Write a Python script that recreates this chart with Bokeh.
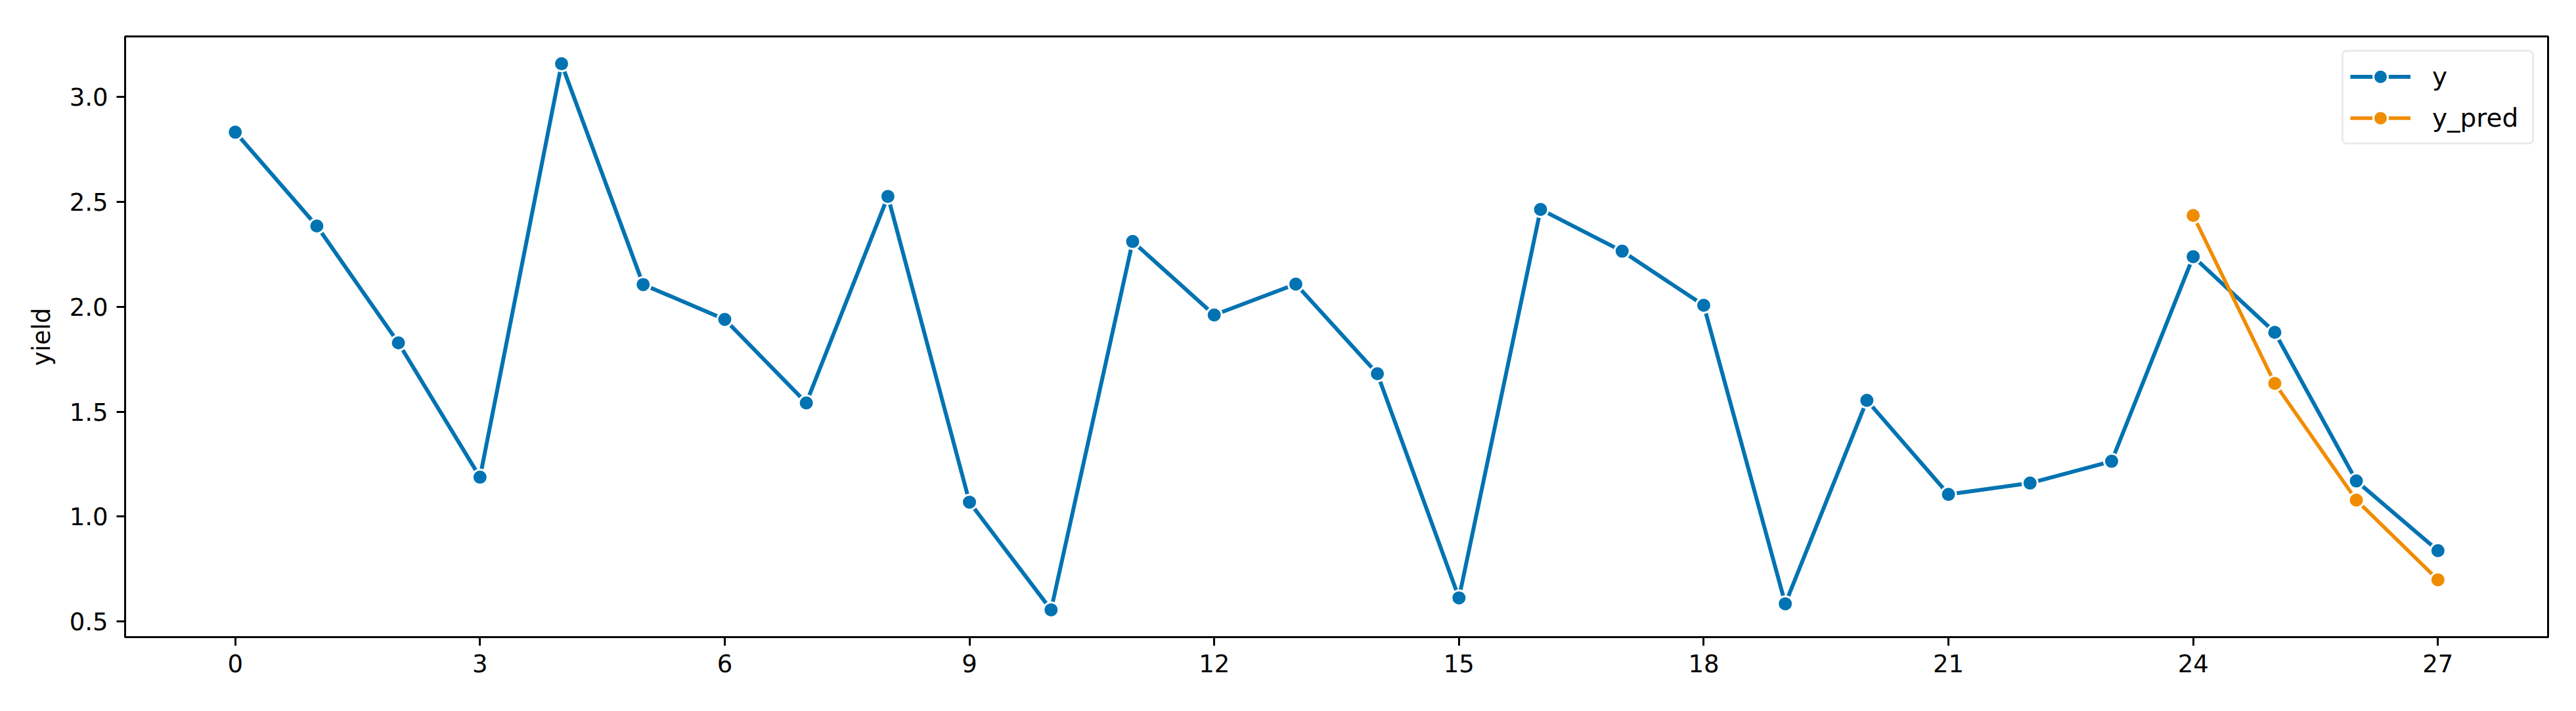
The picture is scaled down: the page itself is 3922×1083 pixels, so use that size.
from bokeh.plotting import figure
from bokeh.models import Range1d, FixedTicker, Legend, LegendItem, NumeralTickFormatter
from bokeh.embed import file_html
from bokeh.resources import INLINE

# ---- data ----
x_y = list(range(28))
y_vals = [2.832, 2.385, 1.828, 1.188, 3.158, 2.106, 1.940, 1.542, 2.526, 1.069,
          0.556, 2.311, 1.961, 2.108, 1.681, 0.613, 2.464, 2.265, 2.007, 0.585,
          1.554, 1.106, 1.160, 1.264, 2.239, 1.878, 1.170, 0.838]
x_pred = [24, 25, 26, 27]
y_pred = [2.435, 1.635, 1.079, 0.699]
x_ticks = [0, 3, 6, 9, 12, 15, 18, 21, 24, 27]
y_ticks = [0.5, 1.0, 1.5, 2.0, 2.5, 3.0]

BLUE = "#0173B2"
ORANGE = "#F08C00"
FONT = "DejaVu Sans"
FS = "37px"

all_x = x_y + x_pred
all_y = y_vals + y_pred
xm = (max(all_x) - min(all_x)) * 0.05
ym = (max(all_y) - min(all_y)) * 0.05

p = figure(width=3906, height=1067, output_backend="svg", toolbar_location=None,
           x_range=Range1d(min(all_x) - xm, max(all_x) + xm),
           y_range=Range1d(min(all_y) - ym, max(all_y) + ym),
           min_border_left=190, min_border_right=27, min_border_top=55,
           min_border_bottom=97)

p.background_fill_color = "white"
p.border_fill_color = "white"
p.outline_line_color = "black"
p.outline_line_width = 3
p.xgrid.visible = False
p.ygrid.visible = False

for ax in (p.xaxis[0], p.yaxis[0]):
    ax.axis_line_color = "black"
    ax.axis_line_width = 3
    ax.major_tick_line_color = "black"
    ax.major_tick_line_width = 3
    ax.major_tick_out = 13
    ax.major_tick_in = 0
    ax.minor_tick_line_color = None
    ax.major_label_text_font = FONT
    ax.major_label_text_font_size = FS
    ax.major_label_text_color = "black"
    ax.major_label_standoff = 13

p.xaxis.ticker = FixedTicker(ticks=x_ticks)
p.yaxis.ticker = FixedTicker(ticks=y_ticks)
p.yaxis.formatter = NumeralTickFormatter(format="0.0")
p.yaxis.axis_label = "yield"
p.yaxis.axis_label_text_font = FONT
p.yaxis.axis_label_text_font_size = FS
p.yaxis.axis_label_text_font_style = "normal"
p.yaxis.axis_label_text_color = "black"
p.yaxis.axis_label_standoff = 18

l1 = p.line(x_y, y_vals, line_color=BLUE, line_width=6)
s1 = p.scatter(x_y, y_vals, size=23, fill_color=BLUE, line_color="white", line_width=3)
l2 = p.line(x_pred, y_pred, line_color=ORANGE, line_width=5.5)
s2 = p.scatter(x_pred, y_pred, size=23, fill_color=ORANGE, line_color="white", line_width=3)

legend = Legend(items=[LegendItem(label="y", renderers=[l1, s1]),
                       LegendItem(label="y_pred", renderers=[l2, s2])],
                location="top_right")
legend.label_text_font = FONT
legend.label_text_font_size = "39px"
legend.label_text_color = "black"
legend.glyph_width = 92
legend.glyph_height = 55
legend.label_height = 55
legend.label_width = 142
legend.label_standoff = 33
legend.spacing = 8
legend.padding = 10
legend.margin = 21
legend.border_line_color = "#d6d6d6"
legend.border_line_width = 3
legend.background_fill_color = "white"
legend.background_fill_alpha = 0.8
if "border_radius" in Legend.properties():
    legend.border_radius = 8
p.add_layout(legend, "center")

open("out.html", "w").write(file_html(p, INLINE))
